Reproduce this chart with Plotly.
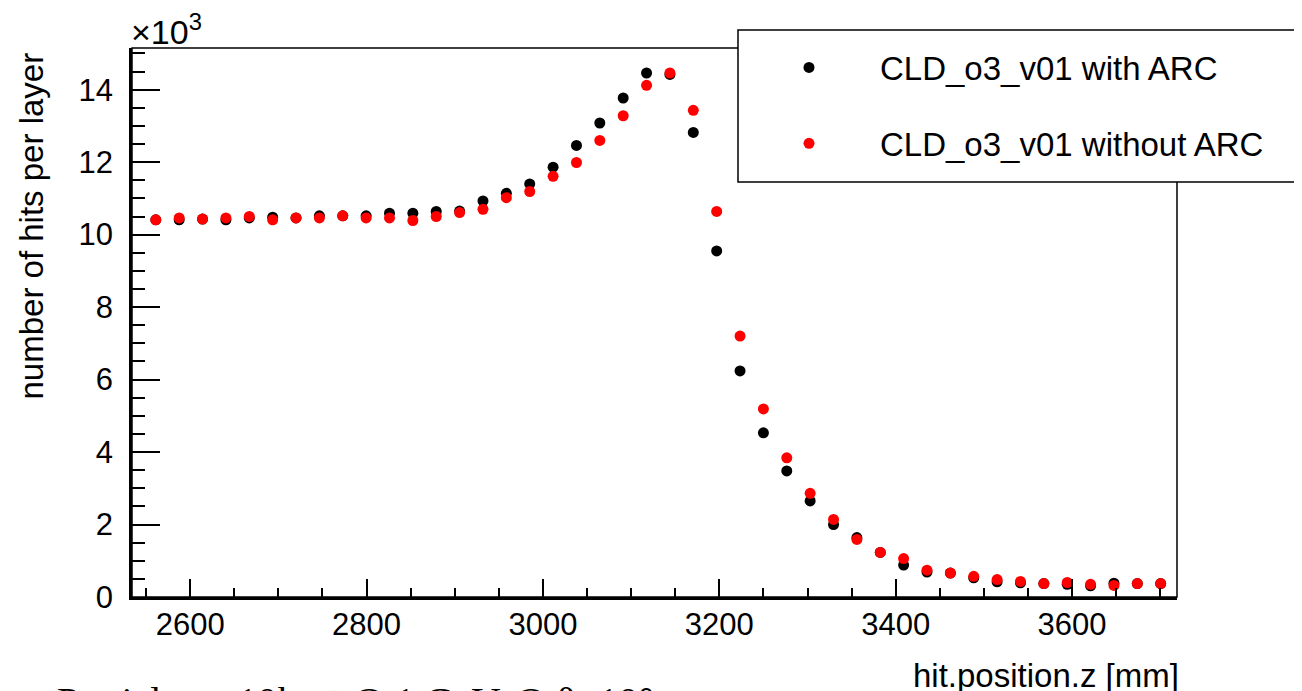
import plotly.graph_objects as go

# hit z position of each layer [mm]
z_mm = [2561, 2587.5, 2614, 2640.5, 2667, 2693.5, 2720, 2746.5, 2773, 2799.5,
        2826, 2852.5, 2879, 2905.5, 2932, 2958.5, 2985, 3011.5, 3038, 3064.5,
        3091, 3117.5, 3144, 3170.5, 3197, 3223.5, 3250, 3276.5, 3303, 3329.5,
        3356, 3382.5, 3409, 3435.5, 3462, 3488.5, 3515, 3541.5, 3568, 3594.5,
        3621, 3647.5, 3674, 3700.5]

# number of hits per layer, in units of 10^3
hits_with_arc = [10.41, 10.41, 10.43, 10.41, 10.46, 10.48, 10.46, 10.52, 10.52, 10.52,
                 10.59, 10.59, 10.64, 10.65, 10.93, 11.14, 11.40, 11.86, 12.46, 13.08,
                 13.77, 14.46, 14.42, 12.82, 9.55, 6.24, 4.53, 3.48, 2.65, 2.00,
                 1.64, 1.23, 0.88, 0.69, 0.66, 0.53, 0.42, 0.39, 0.37, 0.35,
                 0.31, 0.38, 0.37, 0.37]
hits_without_arc = [10.41, 10.46, 10.43, 10.46, 10.50, 10.41, 10.46, 10.46, 10.52, 10.46,
                    10.46, 10.39, 10.50, 10.61, 10.70, 11.02, 11.19, 11.61, 11.99, 12.60,
                    13.28, 14.12, 14.46, 13.43, 10.64, 7.20, 5.19, 3.84, 2.86, 2.14,
                    1.59, 1.23, 1.06, 0.74, 0.66, 0.57, 0.48, 0.43, 0.37, 0.40,
                    0.35, 0.32, 0.37, 0.37]

series_names = ["CLD_o3_v01 with ARC", "CLD_o3_v01 without ARC"]
x_title = "hit.position.z [mm]"
y_title = "number of hits per layer"

FONT = "Liberation Sans, Arial, Helvetica, sans-serif"

fig = go.Figure()
fig.add_trace(go.Scatter(x=z_mm, y=hits_with_arc, mode="markers", name=series_names[0],
                         legendgroup="a",
                         marker=dict(color="black", size=11, symbol="circle")))
fig.add_trace(go.Scatter(x=z_mm, y=hits_without_arc, mode="markers", name=series_names[1],
                         legendgroup="b",
                         marker=dict(color="red", size=11, symbol="circle")))

W, H = 1302, 691
OFF = 8  # page body margin offsets the figure in the browser
# plot area in screen pixels: x 132..1177, y 48..597
SL, SR, ST, SB = 132, 1177, 48, 597
L = SL - OFF
T = ST - OFF
R = W - (SR - OFF)
B = H - (SB - OFF)
pw, ph = SR - SL, SB - ST


def px_x(px):
    return (px - SL) / pw


def px_y(py):
    return (SB - py) / ph


fig.update_layout(
    width=W, height=H,
    margin=dict(l=L, r=R, t=T, b=B, pad=0, autoexpand=False),
    paper_bgcolor="white", plot_bgcolor="white",
    font=dict(family=FONT, color="black", size=31),
    showlegend=True,
    legend=dict(
        x=px_x(738), y=px_y(39.5), xanchor="left", yanchor="top",
        bgcolor="rgba(0,0,0,0)", borderwidth=0,
        font=dict(family=FONT, size=33, color="black"),
        itemwidth=132, traceorder="grouped", tracegroupgap=30,
    ),
    xaxis=dict(
        range=[2534, 3719], tick0=2600, dtick=200,
        ticks="inside", ticklen=18, tickwidth=1.5, tickcolor="black",
        minor=dict(tick0=2550, dtick=50, ticks="inside", ticklen=9,
                   tickwidth=1.5, tickcolor="black", showgrid=False),
        showline=True, linewidth=2.5, linecolor="black", mirror=False,
        showgrid=False, zeroline=False,
        tickfont=dict(family=FONT, size=31), ticklabelstandoff=-2,
    ),
    yaxis=dict(
        range=[0, 15.15], tick0=0, dtick=2,
        ticks="inside", ticklen=28, tickwidth=1.5, tickcolor="black",
        minor=dict(tick0=0, dtick=0.5, ticks="inside", ticklen=13,
                   tickwidth=1.5, tickcolor="black", showgrid=False),
        showline=True, linewidth=2.5, linecolor="black", mirror=False,
        showgrid=False, zeroline=False,
        tickfont=dict(family=FONT, size=31), ticklabelstandoff=10,
    ),
    shapes=[
        # frame (top and right)
        dict(type="rect", xref="paper", yref="paper", x0=0, x1=1, y0=0, y1=1,
             line=dict(color="black", width=1.5), fillcolor="rgba(0,0,0,0)", layer="above"),
        # legend box
        dict(type="rect", xref="paper", yref="paper",
             x0=px_x(738), x1=px_x(1320), y0=px_y(182), y1=px_y(30),
             line=dict(color="black", width=1.5), fillcolor="white", layer="above"),
    ],
    annotations=[
        dict(text="\u00d710<sup>3</sup>", xref="paper", yref="paper",
             x=0, y=1, xanchor="left", yanchor="bottom", showarrow=False,
             font=dict(family=FONT, size=34), xshift=-3, yshift=-5),
        dict(text=x_title, xref="paper", yref="paper",
             x=1, y=px_y(675), xanchor="right", yanchor="middle", showarrow=False,
             font=dict(family=FONT, size=33), xshift=4),
        dict(text=y_title, xref="paper", yref="paper", textangle=-90,
             x=px_x(31), y=px_y(51), xanchor="center", yanchor="top", showarrow=False,
             font=dict(family=FONT, size=33)),
        dict(text="Particles = 10k \u03bc<sup>-</sup> @ 1 GeV @ \u03b8=10\u00b0",
             xref="paper", yref="paper", x=px_x(55), y=px_y(670.5),
             xanchor="left", yanchor="top", showarrow=False,
             font=dict(family="Liberation Serif, DejaVu Serif, serif", size=40)),
    ],
)

fig.write_html("out.html")
